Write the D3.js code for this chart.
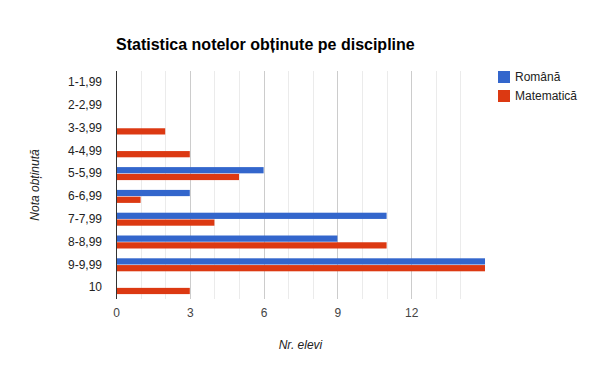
<!DOCTYPE html>
<html>
<head>
<meta charset="utf-8">
<script src="https://cdn.jsdelivr.net/npm/d3@7"></script>
<style>
  body { margin: 0; background: #fff; }
  svg { display: block; font-family: Arial, "Liberation Sans", sans-serif; }
</style>
</head>
<body>
<svg id="chart" width="600" height="371"></svg>
<script>
// data
var categories = ["1-1,99", "2-2,99", "3-3,99", "4-4,99", "5-5,99", "6-6,99", "7-7,99", "8-8,99", "9-9,99", "10"];
var series = ["Română", "Matematică"];
var romana = [0, 0, 0, 0, 6, 3, 11, 9, 15, 0];
var matematica = [0, 0, 2, 3, 5, 1, 4, 11, 15, 3];
var colors = ["#3366cc", "#dc3912"];
var xTicks = [0, 3, 6, 9, 12];

// plot box (note: "top" is reserved on window, so use other names)
var plotLeft = 116, plotRight = 485, plotTop = 71, plotBottom = 299;

const svg = d3.select("#chart");

var rows = categories.map(function(c, i){
  return { cat: c, values: [romana[i], matematica[i]] };
});

var x = d3.scaleLinear().domain([0, 15]).range([plotLeft, plotRight]);
var y = d3.scaleBand().domain(categories).range([plotTop, plotBottom]).paddingInner(0.43).paddingOuter(0.215);
var y1 = d3.scaleBand().domain(series).range([0, y.bandwidth()]).paddingInner(0.08);

// gridlines (minor every 1, major every 3)
svg.append("g")
  .selectAll("line")
  .data(d3.range(1, 15))
  .enter()
  .append("line")
  .attr("x1", function(d){ return Math.round(x(d)) + 0.5; })
  .attr("x2", function(d){ return Math.round(x(d)) + 0.5; })
  .attr("y1", plotTop).attr("y2", plotBottom)
  .attr("stroke", function(d){ return d % 3 === 0 ? "#cccccc" : "#ebebeb"; })
  .attr("stroke-width", 1);

// bars
let groups = svg.append("g")
  .selectAll("g.row")
  .data(rows)
  .enter()
  .append("g")
  .classed("row", true)
  .attr("transform", function(d){ return "translate(0," + y(d.cat) + ")"; });

groups.selectAll("rect")
  .data(function(d){ return d.values.map(function(v, i){ return { s: series[i], v: v, i: i }; }); })
  .enter()
  .filter(function(d){ return d.v > 0; })
  .append("rect")
  .attr("x", x(0))
  .attr("y", function(d){ return y1(d.s); })
  .attr("width", function(d){ return x(d.v) - x(0); })
  .attr("height", y1.bandwidth())
  .attr("fill", function(d){ return colors[d.i]; });

// axis line at zero
svg.append("line")
  .attr("x1", Math.round(x(0)) + 0.5).attr("x2", Math.round(x(0)) + 0.5)
  .attr("y1", plotTop).attr("y2", plotBottom)
  .attr("stroke", "#333333").attr("stroke-width", 1);

// category labels
var yAxis = d3.axisLeft(y).tickSize(0).tickPadding(14);
let ya = svg.append("g").attr("transform", "translate(" + x(0) + ",0)").call(yAxis);
ya.select(".domain").remove();
ya.selectAll("text").attr("font-size", 12).attr("fill", "#222222").attr("font-family", "Arial, 'Liberation Sans', sans-serif");

// value ticks
var xAxis = d3.axisBottom(x).tickValues(xTicks).tickSize(0).tickPadding(9);
let xa = svg.append("g").attr("transform", "translate(0," + plotBottom + ")").call(xAxis);
xa.select(".domain").remove();
xa.selectAll("text").attr("font-size", 12).attr("fill", "#444444").attr("font-family", "Arial, 'Liberation Sans', sans-serif");

// title
svg.append("text")
  .attr("x", plotLeft).attr("y", 50)
  .attr("font-size", 16).attr("font-weight", "bold").attr("fill", "#000")
  .text("Statistica notelor obținute pe discipline");

// axis titles
svg.append("text")
  .attr("x", (plotLeft + plotRight) / 2).attr("y", 349)
  .attr("text-anchor", "middle").attr("font-size", 12).attr("font-style", "italic").attr("fill", "#222222")
  .text("Nr. elevi");

svg.append("text")
  .attr("transform", "translate(39," + (plotTop + plotBottom) / 2 + ") rotate(-90)")
  .attr("text-anchor", "middle").attr("font-size", 12).attr("font-style", "italic").attr("fill", "#222222")
  .text("Nota obținută");

// legend
let lg = svg.append("g")
  .selectAll("g.leg")
  .data(series)
  .enter()
  .append("g")
  .classed("leg", true)
  .attr("transform", function(d, i){ return "translate(498," + (71 + i * 19) + ")"; });
lg.append("rect").attr("width", 12).attr("height", 12).attr("fill", function(d, i){ return colors[i]; });
lg.append("text").attr("x", 17).attr("y", 10).attr("font-size", 12).attr("fill", "#222222").text(function(d){ return d; });
</script>
</body>
</html>
